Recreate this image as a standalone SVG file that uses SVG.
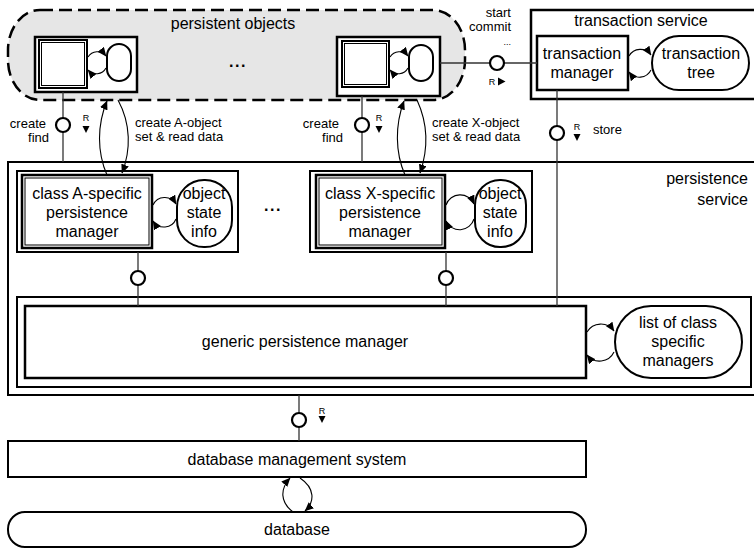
<svg xmlns="http://www.w3.org/2000/svg" width="754" height="548" viewBox="0 0 754 548">
<style>
text{font-family:"Liberation Sans",Arial,sans-serif;fill:#000}
.t16{font-size:16px}
.t13{font-size:13px}
.r{font-size:9px}
.c{text-anchor:middle}
.e{text-anchor:end}
.box{fill:#fff;stroke:#000;stroke-width:2.5}
.grp{fill:#fff;stroke:#000;stroke-width:2}
.thin{fill:none;stroke:#000;stroke-width:1}
.pill{fill:#fff;stroke:#000;stroke-width:2}
.ln{fill:none;stroke:#333;stroke-width:1.3}
.ch{fill:#fff;stroke:#000;stroke-width:2.2}
.arc{fill:none;stroke:#000;stroke-width:1.1;marker-end:url(#ah)}
.tri{fill:#000}
</style>
<defs>
<marker id="ah" markerUnits="userSpaceOnUse" markerWidth="9" markerHeight="8" viewBox="0 0 9 8" refX="8.5" refY="4" orient="auto">
<path d="M0,0 L9,4 L0,8 z" fill="#000"/>
</marker>
</defs>

<g id="persistence-service">
<rect x="8" y="162" width="760" height="233" class="grp"/>
<text x="748" y="184" class="t16 e">persistence</text>
<text x="748" y="205" class="t16 e">service</text>
</g>

<g id="transaction-service">
<rect x="531" y="10" width="240" height="89" class="box"/>
<text x="641" y="26" class="t16 c">transaction service</text>
</g>

<g id="persistent-objects">
<rect x="8" y="10" width="457" height="90" rx="32" ry="40" fill="#e6e6e6" stroke="#000" stroke-width="2.5" stroke-dasharray="13 6"/>
<text x="233" y="29" class="t16 c">persistent objects</text>
<text x="238" y="67" class="t16 c" font-weight="bold" letter-spacing="1.5">...</text>
</g>

<g id="object-a">
<rect x="35" y="37" width="102" height="55" class="box"/>
<rect x="39" y="40" width="48" height="48" fill="#fff" stroke="#000" stroke-width="2"/>
<rect x="41.5" y="42.5" width="43" height="43" class="thin"/>
<rect x="107" y="44" width="24" height="37" rx="12" class="pill"/>
</g>

<g id="object-x">
<rect x="337" y="37" width="103" height="59" class="box"/>
<rect x="342" y="41" width="47" height="46" fill="#fff" stroke="#000" stroke-width="2"/>
<rect x="344.5" y="43.5" width="42" height="41" class="thin"/>
<rect x="409" y="45" width="24" height="36" rx="12" class="pill"/>
</g>

<g id="transaction-manager">
<rect x="537" y="36" width="91" height="54" class="box"/>
<text x="582" y="59" class="t16 c">transaction</text>
<text x="582" y="78" class="t16 c">manager</text>
</g>

<g id="transaction-tree">
<rect x="652" y="36" width="97" height="54" rx="27" class="pill"/>
<text x="701" y="59" class="t16 c">transaction</text>
<text x="701" y="78" class="t16 c">tree</text>
</g>

<g id="class-a-manager">
<rect x="17" y="171" width="221" height="81" class="grp"/>
<rect x="22" y="175" width="130" height="73" class="box"/>
<rect x="25" y="178" width="124" height="67" class="thin"/>
<text x="87" y="199" class="t16 c">class A-specific</text>
<text x="87" y="218" class="t16 c">persistence</text>
<text x="87" y="237" class="t16 c">manager</text>
</g>

<g id="class-a-state">
<rect x="177" y="180" width="55" height="67" rx="27" class="pill"/>
<text x="204" y="199" class="t16 c">object</text>
<text x="204" y="218" class="t16 c">state</text>
<text x="204" y="237" class="t16 c">info</text>
</g>

<text x="273" y="211" class="t16 c" font-weight="bold" letter-spacing="1.5">...</text>

<g id="class-x-manager">
<rect x="310" y="171" width="222" height="81" class="grp"/>
<rect x="316" y="175" width="129" height="73" class="box"/>
<rect x="319" y="178" width="123" height="67" class="thin"/>
<text x="380" y="199" class="t16 c">class X-specific</text>
<text x="380" y="218" class="t16 c">persistence</text>
<text x="380" y="237" class="t16 c">manager</text>
</g>

<g id="class-x-state">
<rect x="475" y="180" width="51" height="67" rx="25" class="pill"/>
<text x="500" y="199" class="t16 c">object</text>
<text x="500" y="218" class="t16 c">state</text>
<text x="500" y="237" class="t16 c">info</text>
</g>

<g id="generic-manager">
<rect x="17" y="297" width="734" height="90" class="grp"/>
<rect x="25" y="306" width="561" height="72" class="box"/>
<text x="305" y="347" class="t16 c">generic persistence manager</text>
</g>

<g id="class-list">
<rect x="615" y="306" width="127" height="72" rx="36" class="pill"/>
<text x="678" y="328" class="t16 c">list of class</text>
<text x="678" y="347" class="t16 c">specific</text>
<text x="678" y="366" class="t16 c">managers</text>
</g>

<g id="dbms">
<rect x="8" y="441" width="578" height="36" class="grp"/>
<text x="297" y="465" class="t16 c">database management system</text>
</g>

<g id="database">
<rect x="8" y="512" width="578" height="35" rx="17" class="pill"/>
<text x="297" y="535" class="t16 c">database</text>
</g>

<g id="connectors">
<line x1="63" y1="92" x2="63" y2="162" class="ln"/>
<circle cx="63" cy="125" r="7" class="ch"/>
<text x="46" y="128" class="t13 e">create</text>
<text x="49" y="142" class="t13 e">find</text>
<text x="86" y="121" class="r c">R</text>
<path d="M82.5,126 L89.5,126 L86,133 z" class="tri"/>
<path d="M107,175 C97,152 97,125 107,101" class="arc"/>
<path d="M118,100 C131,124 131,150 122,173" class="arc"/>
<text x="135" y="127" class="t13">create A-object</text>
<text x="135" y="141" class="t13">set &amp; read data</text>

<line x1="362" y1="96" x2="362" y2="162" class="ln"/>
<circle cx="362" cy="125" r="7" class="ch"/>
<text x="339" y="128" class="t13 e">create</text>
<text x="343" y="142" class="t13 e">find</text>
<text x="379" y="121" class="r c">R</text>
<path d="M375.5,126 L382.5,126 L379,133 z" class="tri"/>
<path d="M405,175 C395,152 395,125 404,101" class="arc"/>
<path d="M417,100 C428,124 428,150 420,173" class="arc"/>
<text x="432" y="127" class="t13">create X-object</text>
<text x="432" y="141" class="t13">set &amp; read data</text>

<line x1="440" y1="63" x2="537" y2="63" class="ln"/>
<circle cx="497" cy="63" r="7" class="ch"/>
<text x="511" y="17" class="t13 e">start</text>
<text x="511" y="31" class="t13 e">commit</text>
<text x="511" y="45" class="r e">...</text>
<text x="492" y="85" class="r c">R</text>
<path d="M498,77.5 L505.5,81.5 L498,85.5 z" class="tri"/>

<line x1="557" y1="90" x2="557" y2="306" class="ln"/>
<circle cx="557" cy="133" r="7" class="ch"/>
<text x="577" y="130" class="r c">R</text>
<path d="M573.5,134 L580.5,134 L577,141 z" class="tri"/>
<text x="593" y="134" class="t13">store</text>

<line x1="138" y1="252" x2="138" y2="306" class="ln"/>
<circle cx="138" cy="278" r="7" class="ch"/>
<line x1="446" y1="252" x2="446" y2="306" class="ln"/>
<circle cx="446" cy="278" r="7" class="ch"/>

<line x1="299" y1="395" x2="299" y2="441" class="ln"/>
<circle cx="299" cy="420" r="7" class="ch"/>
<text x="322" y="414" class="r c">R</text>
<path d="M318.5,416 L325.5,416 L322,423 z" class="tri"/>

<path d="M293,512 C280,502 280,489 290,478" class="arc"/>
<path d="M300,478 C315,488 315,502 305,511" class="arc"/>

<path d="M88,57 A11,11 0 0 1 106,56" class="arc"/>
<path d="M106,68 A11,11 0 0 1 88,70" class="arc"/>
<path d="M390,57 A11,11 0 0 1 408,56" class="arc"/>
<path d="M408,68 A11,11 0 0 1 390,70" class="arc"/>
<path d="M629,56 A13,13 0 0 1 651,55" class="arc"/>
<path d="M651,70 A13,13 0 0 1 629,72" class="arc"/>
<path d="M153,205 A13,13 0 0 1 176,204" class="arc"/>
<path d="M176,219 A13,13 0 0 1 153,221" class="arc"/>
<path d="M446,205 A15,15 0 0 1 474,204" class="arc"/>
<path d="M474,219 A15,15 0 0 1 446,221" class="arc"/>
<path d="M587,332 A16,16 0 0 1 614,331" class="arc"/>
<path d="M614,352 A16,16 0 0 1 587,355" class="arc"/>
</g>
</svg>
